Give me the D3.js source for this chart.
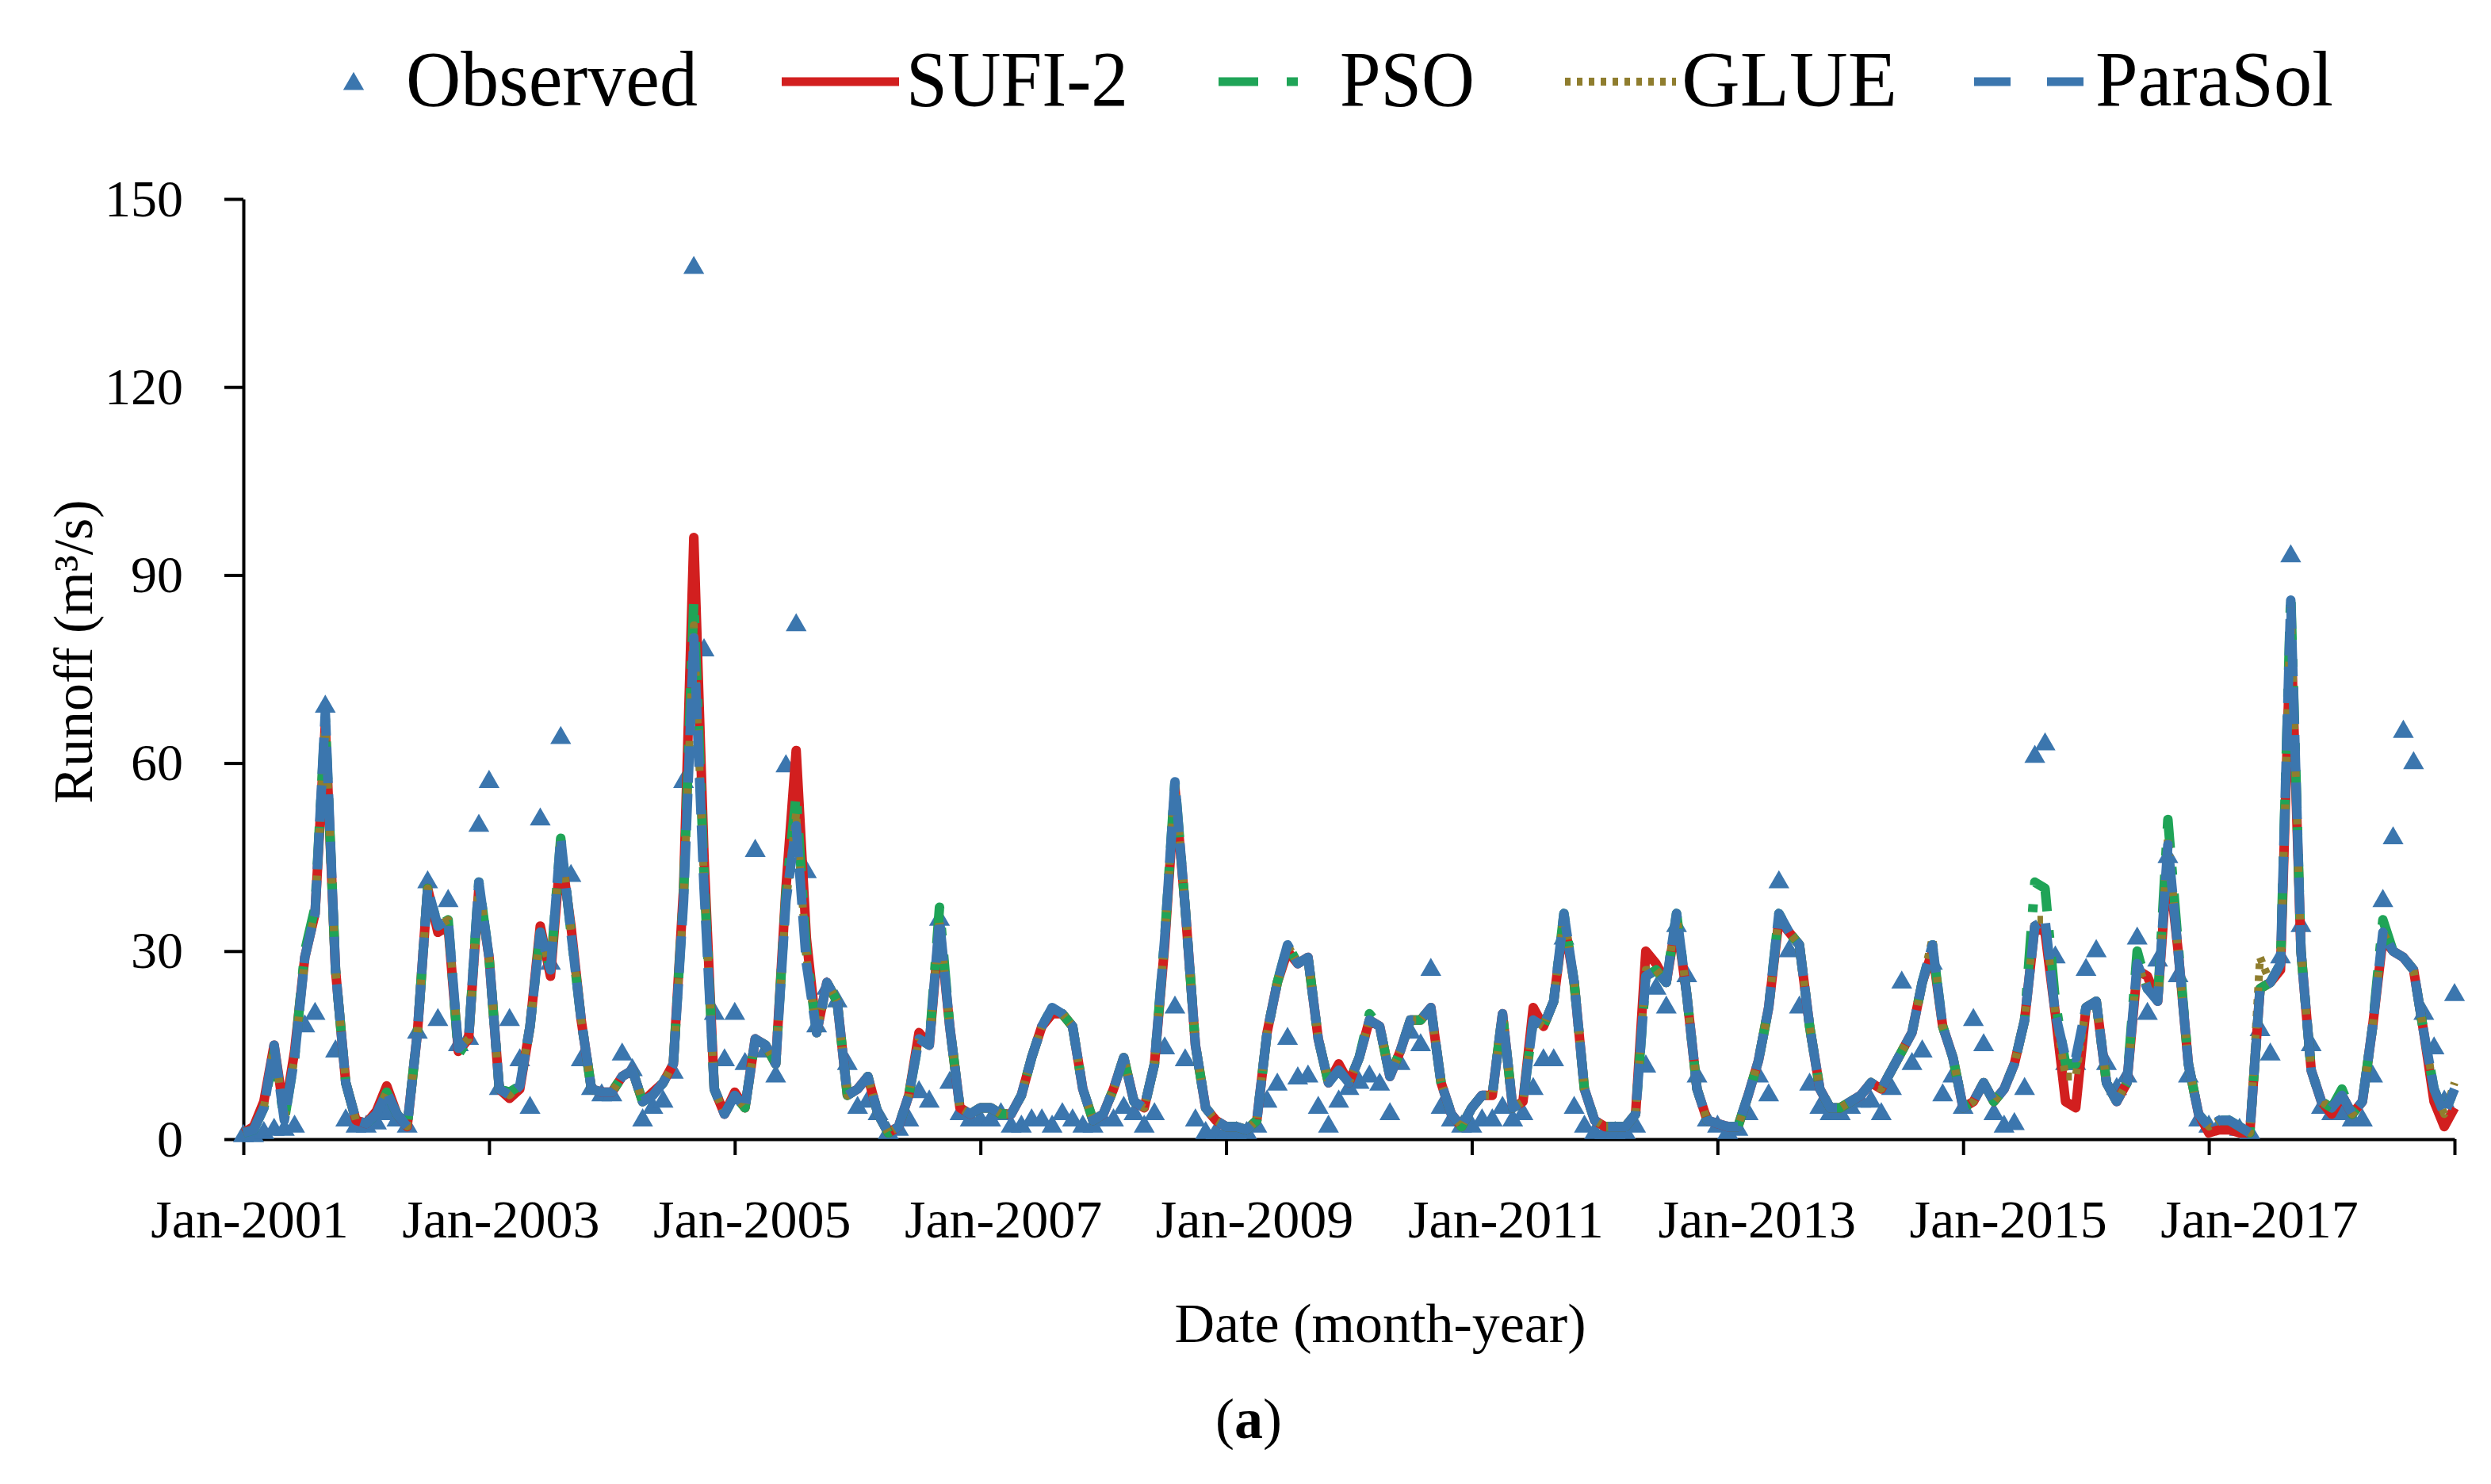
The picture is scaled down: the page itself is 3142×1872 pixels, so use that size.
<!DOCTYPE html>
<html>
<head>
<meta charset="utf-8">
<script src="https://cdn.jsdelivr.net/npm/d3@7"></script>
<style>
  body { margin: 0; background: #fff; }
  text { font-family: "Liberation Serif", "Times New Roman", serif; fill: #000; }
</style>
</head>
<body>
<svg id="chart" width="3142" height="1872"></svg>
<script>
// Monthly runoff (m3/s), Jan-2001 .. Jan-2019, one value per month
const observed = [
  0.5, 0.5, 1, 1.5, 1.5, 2, 18, 20, 69, 14, 3, 2,
  2, 2.5, 4, 3, 2, 17, 41, 19, 38, 15, 16, 50,
  57, 8, 19, 12.6, 5, 51, 28, 64, 42, 12.6, 8, 7,
  7, 13.5, 11, 3, 5, 6, 10.6, 57, 139, 78, 20, 12.6,
  20, 12, 46, 14, 10, 59.5, 82, 42.6, 18, 24, 22, 12,
  5, 6, 4, 1, 1.5, 3, 7.5, 6, 35, 9, 4, 3,
  3, 3, 4, 2, 2, 3, 3, 2, 4, 3, 2, 2,
  3, 3, 5, 4, 2, 4, 14.5, 21, 12.6, 3, 1, 1,
  1, 1, 1, 2, 6, 8.7, 16, 9.7, 10, 5, 2, 6,
  8, 9, 10, 8.7, 4, 12, 17, 15, 27, 5, 3, 2,
  2, 3, 3, 5, 3, 4, 8, 12.6, 12.6, 32, 5, 2,
  1, 1, 1, 1, 2, 11.6, 24, 21, 34, 26, 10, 3,
  2, 1, 1.5, 4, 10, 7, 41, 30, 21, 8.7, 5, 4,
  4, 5, 6, 6, 4, 8, 25, 12, 14, 28, 7, 10,
  5, 19, 15, 4, 2, 2.4, 8, 61, 63, 29, 12, 12,
  27, 30, 12, 8, 10, 32, 20, 28.5, 45, 26, 10, 3,
  2, 2, 2, 1.5, 1, 17.4, 13.5, 29, 93, 34, 15, 5,
  4, 4, 3, 3, 10, 38, 48, 65, 60, 20, 14.5, 6, 23
];

const sufi2 = [
  1, 2, 6, 15, 4, 14, 29, 36, 66, 27, 9, 3,
  2.5, 4.5, 8.5, 4, 2, 17, 40, 33, 34, 14, 16, 40,
  29, 8, 6.5, 8, 18, 34, 26, 46, 34, 19, 8, 7.5,
  7.5, 10, 11, 6, 7.5, 9, 12, 40, 96, 45, 8, 4,
  7.5, 5, 16, 15, 12, 40, 62, 32, 17, 25, 22, 7,
  8, 10, 4, 1, 2, 7, 17, 15, 34, 18, 5, 4,
  5, 5, 4, 4, 7, 13, 18, 20, 20, 18, 8, 3,
  4, 8, 13, 6, 5, 12, 31, 56, 37, 15, 5, 3,
  2, 2, 1.5, 3, 17, 25, 30, 28, 29, 16, 9, 12,
  9, 13, 19, 18, 10, 14, 19, 19, 21, 9, 4, 2,
  5, 7, 7, 20, 5, 6, 21, 18, 22, 35, 25, 8,
  3, 2, 2, 2, 4, 30, 28, 25, 35, 23, 8, 3,
  2.5, 2, 2, 7, 12.5, 21, 35, 33, 31, 18, 8, 5,
  5, 6, 7, 9, 8, 11, 14, 17, 25, 30, 18, 13,
  5, 6, 9, 6, 8, 12, 19, 34, 33, 20, 6, 5,
  21, 22, 9, 6, 9, 27, 26, 22, 45, 30, 12, 4,
  1, 1.5, 1.5, 1, 1, 24, 25, 27, 82, 30, 11, 6,
  4, 7, 4, 6, 18, 32, 30, 29, 27, 17, 6, 2, 5
];

const pso = [
  1, 1.5, 5, 14, 3, 13, 30, 37, 67, 27, 9, 3,
  2.5, 4, 7.5, 4, 2, 17, 40, 34, 35, 13.5, 16, 41,
  29, 8, 7.5, 8.5, 18, 33, 27, 48, 33, 19, 8, 7.5,
  7.5, 10, 11, 6, 7, 9, 12, 39, 86, 42, 8, 4,
  7, 5, 16, 15, 12, 39, 55, 30, 17, 25, 22, 7,
  8, 10, 4, 1, 2, 7, 16, 15, 37, 18, 5, 4,
  5, 5, 4, 4, 7, 13, 18, 21, 20, 18, 8, 3,
  4, 8, 13, 6, 5, 12, 32, 57, 37, 15, 5, 3,
  2, 2, 1.5, 3, 17, 25, 31, 28, 29, 16, 9, 11,
  9, 13, 20, 18, 10, 14, 19, 19, 21, 9, 4, 2,
  5, 7, 7, 20, 5, 6, 19, 18, 22, 36, 25, 8,
  3, 2, 2, 2, 4, 26, 27, 25, 36, 23, 8, 3,
  2.5, 2, 2, 7, 12.5, 21, 36, 33, 31, 18, 8, 5,
  5, 6, 7, 9, 8, 11, 14, 17, 25, 31, 18, 13,
  5, 6, 9, 6, 8, 12, 19, 41, 40, 22, 12, 12,
  21, 22, 9, 6, 9, 30, 24, 22, 51, 31, 12, 4,
  2, 3, 3, 2, 1, 24, 25, 28, 87, 30, 11, 6,
  5, 8, 4, 6, 18, 35, 30, 29, 27, 17, 8, 4, 8
];

const glue = [
  1, 1.5, 5, 15, 3, 13, 29, 36, 67, 27, 9, 3,
  2.5, 4, 7.5, 4, 2, 17, 40, 34, 35, 14.5, 16, 41,
  29, 8, 7, 8.5, 18, 33, 27, 48, 33, 19, 8, 7.5,
  7.5, 10, 11, 6, 7, 9, 12, 38, 82, 41, 8, 4,
  7, 5, 16, 15, 12, 38, 52, 29, 17, 25, 22, 7,
  8, 10, 4, 1, 2, 7, 16, 15, 35, 18, 5, 4,
  5, 5, 4, 4, 7, 13, 18, 21, 20, 18, 8, 3,
  4, 8, 13, 6, 5, 12, 32, 57, 37, 15, 5, 3,
  2, 2, 1.5, 3, 17, 25, 31, 28, 29, 16, 9, 11,
  9, 13, 19, 18, 10, 14, 19, 19, 21, 9, 4, 2,
  5, 7, 7, 20, 5, 6, 19, 18, 22, 36, 25, 8,
  3, 2, 2, 2, 4, 27, 27, 25, 36, 23, 8, 3,
  2.5, 2, 2, 7, 12.5, 21, 36, 33, 31, 18, 8, 5,
  5, 6, 7, 9, 8, 11, 14, 17, 25, 32, 18, 13,
  5, 6, 9, 6, 8, 12, 19, 35, 35, 20, 10, 10,
  21, 22, 9, 6, 9, 28, 24, 22, 48, 30, 12, 4,
  2, 3, 3, 2, 1, 29, 25, 28, 85, 30, 11, 6,
  5, 7, 4, 6, 18, 33, 30, 29, 27, 17, 8, 4, 9
];

const parasol = [
  1, 1.5, 5, 15, 3, 13, 29, 36, 68, 27, 9, 3,
  2.5, 4, 7.5, 4, 2, 17, 40, 34, 35, 14.5, 16, 41,
  29, 8, 7, 8.5, 18, 33, 27, 48, 33, 19, 8, 7.5,
  7.5, 10, 11, 6, 7, 9, 12, 38, 80, 40, 8, 4,
  7, 5, 16, 15, 12, 38, 50, 28, 17, 25, 22, 7,
  8, 10, 4, 1, 2, 7, 16, 15, 35, 18, 5, 4,
  5, 5, 4, 4, 7, 13, 18, 21, 20, 18, 8, 3,
  4, 8, 13, 6, 5, 12, 32, 57, 37, 15, 5, 3,
  2, 2, 1.5, 3, 17, 25, 31, 28, 29, 16, 9, 11,
  9, 13, 19, 18, 10, 14, 19, 19, 21, 9, 4, 2,
  5, 7, 7, 20, 5, 6, 19, 18, 22, 36, 25, 8,
  3, 2, 2, 2, 4, 26, 27, 25, 36, 23, 8, 3,
  2.5, 2, 2, 7, 12.5, 21, 36, 33, 31, 18, 8, 5,
  5, 6, 7, 9, 8, 11, 14, 17, 25, 31, 18, 13,
  5, 6, 9, 6, 8, 12, 19, 34, 35, 20, 13, 13,
  21, 22, 9, 6, 9, 28, 24, 22, 47, 30, 12, 4,
  2, 3, 3, 2, 1, 24, 25, 28, 86, 30, 11, 6,
  5, 7, 4, 6, 18, 33, 30, 29, 27, 17, 8, 4, 8
];

const yTicks = [0, 30, 60, 90, 120, 150];
const xTickMonths = [0, 24, 48, 72, 96, 120, 144, 168, 192, 216];
const xTickLabels = ["Jan-2001", "Jan-2003", "Jan-2005", "Jan-2007", "Jan-2009",
                     "Jan-2011", "Jan-2013", "Jan-2015", "Jan-2017"];

const svg = d3.select("#chart");
const blue = "#3b76ae";

const x = d3.scaleLinear().domain([0, 216]).range([307, 3096]);
const y = d3.scaleLinear().domain([0, 150]).range([1437, 251]);
// category labels drift a little to the right of their ticks in the original
const xLabel = d3.scaleLinear().domain([0, 192]).range([315, 2850]);

// axes
const yAxis = svg.append("g")
  .attr("transform", `translate(${x(0)},0)`)
  .call(d3.axisLeft(y).tickValues(yTicks).tickSize(24).tickSizeOuter(0).tickPadding(52));
yAxis.attr("font-size", 66).attr("font-family", "Liberation Serif");
yAxis.selectAll("path, line").attr("stroke", "#000").attr("stroke-width", 4);

const xAxis = svg.append("g")
  .attr("transform", `translate(0,${y(0)})`)
  .call(d3.axisBottom(x).tickValues(xTickMonths).tickFormat("").tickSize(20).tickSizeOuter(0));
xAxis.selectAll("path, line").attr("stroke", "#000").attr("stroke-width", 4);

svg.append("g").selectAll("text")
  .data(xTickLabels)
  .join("text")
  .attr("x", (d, i) => xLabel(xTickMonths[i]))
  .attr("y", 1561)
  .attr("text-anchor", "middle")
  .attr("font-size", 68)
  .text(d => d);

// axis titles
svg.append("text")
  .attr("transform", "translate(116,822) rotate(-90)")
  .attr("text-anchor", "middle")
  .attr("font-size", 70)
  .text("Runoff (m³/s)");

svg.append("text")
  .attr("x", 1741).attr("y", 1693)
  .attr("text-anchor", "middle")
  .attr("font-size", 70)
  .text("Date (month-year)");

const cap = svg.append("text")
  .attr("x", 1575).attr("y", 1814)
  .attr("text-anchor", "middle")
  .attr("font-size", 72);
cap.append("tspan").text("(");
cap.append("tspan").attr("font-weight", "bold").text("a");
cap.append("tspan").text(")");

// observed markers
const tri = d3.symbol().type(d3.symbolTriangle).size(300);
svg.append("g").selectAll("path")
  .data(observed)
  .join("path")
  .attr("transform", (d, i) => `translate(${x(i)},${y(d)})`)
  .attr("d", tri)
  .attr("fill", blue);

// simulated series
const series = [
  { name: "SUFI-2", values: sufi2, color: "#d21f1f", width: 12, dash: null },
  { name: "PSO", values: pso, color: "#1fa457", width: 12, dash: "48,24,10,24" },
  { name: "GLUE", values: glue, color: "#8f7d2e", width: 10, dash: "7,8" },
  { name: "ParaSol", values: parasol, color: blue, width: 12, dash: "46,14" }
];

const line = d3.line()
  .x((d, i) => x(i))
  .y(d => y(d));

series.forEach(s => {
  svg.append("path")
    .datum(s.values)
    .attr("fill", "none")
    .attr("stroke", s.color)
    .attr("stroke-width", s.width)
    .attr("stroke-linejoin", "round")
    .attr("stroke-dasharray", s.dash)
    .attr("d", line);
});

// legend
const legend = svg.append("g").attr("font-size", 100);

legend.append("path")
  .attr("transform", "translate(446,106)")
  .attr("d", tri)
  .attr("fill", blue);

const legendItems = [
  { label: "Observed", tx: 512, tw: 368 },
  { label: "SUFI-2", tx: 1143, tw: 280, x1: 986, x2: 1134, color: "#d21f1f", dash: null, width: 11 },
  { label: "PSO", tx: 1690, tw: 170, x1: 1537, x2: 1640, color: "#1fa457", dash: "50,36,14,40", width: 11 },
  { label: "GLUE", tx: 2121, tw: 272, x1: 1974, x2: 2114, color: "#8f7d2e", dash: "7,8", width: 10 },
  { label: "ParaSol", tx: 2643, tw: 300, x1: 2490, x2: 2630, color: blue, dash: "46,46", width: 11 }
];

legendItems.forEach(d => {
  if (d.x1 !== undefined) {
    legend.append("line")
      .attr("x1", d.x1).attr("x2", d.x2)
      .attr("y1", 103).attr("y2", 103)
      .attr("stroke", d.color)
      .attr("stroke-width", d.width)
      .attr("stroke-dasharray", d.dash);
  }
  legend.append("text")
    .attr("x", d.tx).attr("y", 133)
    .attr("textLength", d.tw)
    .attr("lengthAdjust", "spacingAndGlyphs")
    .text(d.label);
});
</script>
</body>
</html>
